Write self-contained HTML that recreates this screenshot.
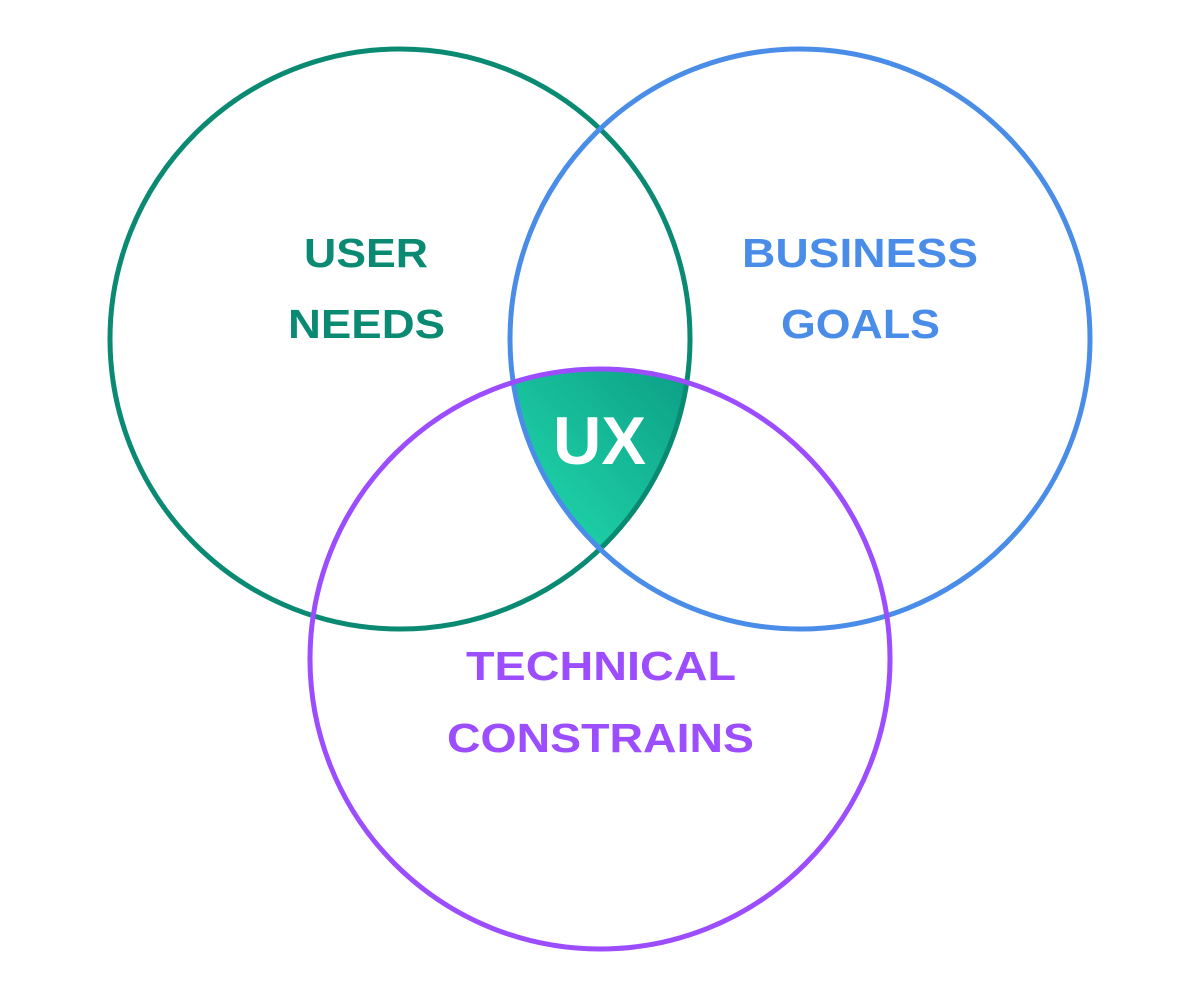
<!DOCTYPE html>
<html><head><meta charset="utf-8"><style>
html,body{margin:0;padding:0;background:#fff;}
svg{display:block}
text{font-family:"Liberation Sans",sans-serif;font-weight:bold;}
</style></head><body>
<svg width="1200" height="1000" viewBox="0 0 1200 1000" xmlns="http://www.w3.org/2000/svg">
<defs>
<linearGradient id="g" x1="0" y1="1" x2="1" y2="0">
<stop offset="0" stop-color="#22dcae"/>
<stop offset="1" stop-color="#0c9f86"/>
</linearGradient>
</defs>
<path d="M513.3 382.3 A290 290 0 0 1 686.7 382.3 A290 290 0 0 1 600 549 A290 290 0 0 1 513.3 382.3 Z" fill="url(#g)"/>
<circle cx="400" cy="339" r="290" fill="none" stroke="#0b8a73" stroke-width="5"/>
<circle cx="800" cy="339" r="290" fill="none" stroke="#4a8de8" stroke-width="5"/>
<circle cx="600" cy="659" r="290" fill="none" stroke="#9b4dff" stroke-width="5"/>
<g font-size="41">
<text x="304" y="267" textLength="124" lengthAdjust="spacingAndGlyphs" fill="#0b8a73">USER</text>
<text x="288" y="338" textLength="157" lengthAdjust="spacingAndGlyphs" fill="#0b8a73">NEEDS</text>
<text x="742" y="267" textLength="236" lengthAdjust="spacingAndGlyphs" fill="#4a8de8">BUSINESS</text>
<text x="781" y="338" textLength="159" lengthAdjust="spacingAndGlyphs" fill="#4a8de8">GOALS</text>
<text x="466" y="680" textLength="270" lengthAdjust="spacingAndGlyphs" fill="#9b4dff">TECHNICAL</text>
<text x="447" y="752" textLength="307" lengthAdjust="spacingAndGlyphs" fill="#9b4dff">CONSTRAINS</text>
</g>
<text x="553" y="464" font-size="68" textLength="93" lengthAdjust="spacingAndGlyphs" fill="#fff">UX</text>
</svg>
</body></html>
